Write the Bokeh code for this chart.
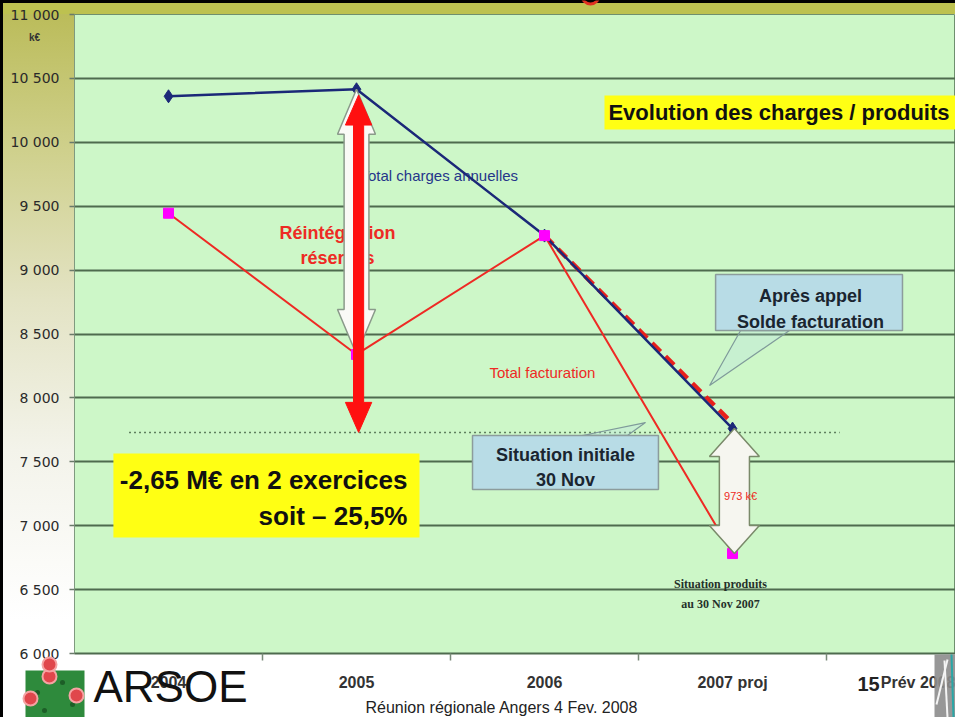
from bokeh.plotting import figure
from bokeh.models import Range1d, FixedTicker
from bokeh.layouts import column
from bokeh.core.properties import value
from bokeh.embed import file_html
from bokeh.resources import INLINE

# ---------------- data ----------------
categories = ["2004", "2005", "2006", "2007 proj", "Prév 2008"]
charges = [10360, 10415, 9270, 7760]          # Total charges annuelles (k€)
facturation = [9445, 8340, 9270, 6782]        # Total facturation (k€)
apres_appel = [None, None, 9270, 7800]        # Après appel solde facturation
situation_initiale = 7730                     # niveau "Situation initiale 30 Nov"
reserve_top = 10370                           # flèche réintégration réserves
y_ticks = [6000, 6500, 7000, 7500, 8000, 8500, 9000, 9500, 10000, 10500, 11000]
y_tick_labels = ["6 000", "6 500", "7 000", "7 500", "8 000", "8 500",
                 "9 000", "9 500", "10 000", "10 500", "11 000"]

# ---------------- layout / styles ----------------
FIG_W, FIG_H = 955, 717
B_LEFT, B_TOP, B_BOTTOM = 74, 14, 64
X_END = 4.686
Y0, Y1 = 6000, 11000
PPX = (FIG_W - B_LEFT) / X_END                 # px per x unit
PPY = (FIG_H - B_TOP - B_BOTTOM) / (Y1 - Y0)   # px per y unit

FRAME_BG = "#cdf7c8"
GRID = "#4e6b4e"
RED = "#ee2a24"
NAVY = "#1b2878"
MAGENTA = "#ff00ff"
YELLOW = "#ffff14"
BLUEBOX = "#b8dce6"
SANS = value("Liberation Sans")

def px(page_x):   # page pixel -> x data
    return (page_x - 8 - B_LEFT) / PPX

def py(page_y):   # page pixel -> y data
    return Y1 - (page_y - 8 - B_TOP) / PPY

xpos = [i + 0.5 for i in range(len(categories))]

p = figure(width=FIG_W, height=FIG_H, x_range=Range1d(0, X_END), y_range=Range1d(Y0, Y1),
           output_backend="svg", toolbar_location=None,
           min_border_left=B_LEFT, min_border_top=B_TOP, min_border_bottom=B_BOTTOM,
           min_border_right=0,
           background_fill_color=FRAME_BG, border_fill_alpha=0,
           outline_line_color="#6f8f6f", outline_line_width=1)
p.styles = {"background": (
    "linear-gradient(#000,#000) 0 0/100% 3px no-repeat,"
    "linear-gradient(#000,#000) 0 0/3px 100% no-repeat,"
    "linear-gradient(#bdc150,#bdc150) 0 3px/100% 11px no-repeat,"
    "linear-gradient(to bottom,#b9ba55 0px,#cfd08c 150px,#e3e3c4 300px,#f3f3ea 450px,#ffffff 620px) 3px 0/71px 100% no-repeat,"
    "#ffffff")}

# axes
p.xaxis.ticker = FixedTicker(ticks=xpos, minor_ticks=[1, 2, 3, 4])
p.xaxis.major_label_overrides = {x: c for x, c in zip(xpos, categories)}
p.xaxis.major_tick_line_color = None
p.xaxis.major_tick_out = 0
p.xaxis.major_tick_in = 0
p.xaxis.minor_tick_in = 0
p.xaxis.minor_tick_out = 7
p.xaxis.minor_tick_line_color = "#7a8a7a"
p.xaxis.minor_tick_line_width = 1.5
p.xaxis.axis_line_color = GRID
p.xaxis.axis_line_width = 2
p.xaxis.major_label_standoff = 13
p.xaxis.major_label_text_font = "Liberation Sans"
p.xaxis.major_label_text_font_style = "bold"
p.xaxis.major_label_text_font_size = "16px"
p.xaxis.major_label_text_color = "#333333"

p.yaxis.ticker = FixedTicker(ticks=y_ticks)
p.yaxis.major_label_overrides = {t: s for t, s in zip(y_ticks, y_tick_labels)}
p.yaxis.minor_tick_line_color = None
p.yaxis.major_tick_in = 0
p.yaxis.major_tick_out = 5
p.yaxis.major_tick_line_color = "#6a7a6a"
p.yaxis.major_tick_line_width = 1.5
p.yaxis.axis_line_color = "#7f9a7f"
p.yaxis.major_label_standoff = 10
p.yaxis.major_label_text_font = "DejaVu Sans"
p.yaxis.major_label_text_font_size = "14px"
p.yaxis.major_label_text_color = "#2a2a2a"

p.xgrid.visible = False
p.ygrid.grid_line_color = GRID
p.ygrid.grid_line_width = 2

def double_arrow(xc, y_top, y_bot, half_shaft, half_head, head_len):
    xs = [xc, xc + half_head, xc + half_shaft, xc + half_shaft, xc + half_head,
          xc, xc - half_head, xc - half_shaft, xc - half_shaft, xc - half_head]
    ys = [y_top, y_top - head_len, y_top - head_len, y_bot + head_len, y_bot + head_len,
          y_bot, y_bot + head_len, y_bot + head_len, y_top - head_len, y_top - head_len]
    return xs, ys

def txt(fig, x, y, t, size, color="#111111", style="normal", align="left", font=SANS,
        baseline="middle"):
    fig.text(x=[x], y=[y], text=[t], text_font=font, text_font_size=size,
             text_font_style=style, text_color=color, text_align=align,
             text_baseline=baseline)

# labels lying under lines / arrows
txt(p, 1.521, 9740, "Total charges annuelles", "15px", color="#25358a")
txt(p, 1.399, 9294, "Réintégration", "18px", color=RED, style="bold", align="center")
txt(p, 1.399, 9091, "réserves", "18px", color=RED, style="bold", align="center")
txt(p, 2.207, 8199, "Total facturation", "15px", color=RED)

# dotted reference line (situation initiale)
p.line([0.29, 4.07], [situation_initiale, situation_initiale], line_color="#5f7f5f",
       line_width=1.5, line_dash="2 3")

# callout tails
p.patch([3.543, 3.378, 3.803], [8527, 8097, 8527], fill_color=BLUEBOX, fill_alpha=0.25,
        line_color="#7f9a9a", line_width=1.2)
p.patch([2.702, 3.037, 2.941], [7706, 7807, 7706], fill_color=BLUEBOX, fill_alpha=0.25,
        line_color="#7f9a9a", line_width=1.2)

# series
ax = [xpos[i] for i, v in enumerate(apres_appel) if v is not None]
ay = [v for v in apres_appel if v is not None]
p.line(ax, ay, line_color="#e8201c", line_width=4.5, line_dash="12 7")
p.line(xpos[:4], facturation, line_color=RED, line_width=2)
p.line(xpos[:4], charges, line_color=NAVY, line_width=2.5)
p.scatter(xpos[:4], charges, marker="diamond", size=13, fill_color=NAVY, line_color=NAVY)
p.scatter(xpos[:4], facturation, marker="square", size=10, fill_color=MAGENTA, line_color=MAGENTA)

# white double arrow 2005
wx, wy = double_arrow(xpos[1], charges[1], facturation[1], 0.066, 0.101, 352)
p.patch(wx, wy, fill_color="#fafaf6", line_color="#8a9a8a", line_width=1.5)
# red double arrow (réintégration réserves)
rx, ry = double_arrow(xpos[1] + 0.011, reserve_top, situation_initiale, 0.027, 0.07, 235)
p.patch(rx, ry, fill_color="#ff1010", line_color="#ff1010", line_width=1)
# white double arrow 2007
wx2, wy2 = double_arrow(xpos[3] + 0.01, charges[3], facturation[3], 0.08, 0.133, 219)
p.patch(wx2, wy2, fill_color="#f6f6f0", line_color="#7a8a6a", line_width=1.5)

# boxes
p.quad(left=[2.819], right=[4.9], bottom=[10100], top=[10366], fill_color=YELLOW, line_color=None)
p.quad(left=[0.207], right=[1.835], bottom=[6907], top=[7565], fill_color=YELLOW, line_color=None)
p.quad(left=[3.410], right=[4.404], bottom=[8527], top=[8965], fill_color=BLUEBOX,
       line_color="#8c9c9c", line_width=1.5)
p.quad(left=[2.117], right=[3.106], bottom=[7283], top=[7706], fill_color=BLUEBOX,
       line_color="#8c9c9c", line_width=1.5)

txt(p, 2.84, 10233, "Evolution des charges / produits", "22px", style="bold")
txt(p, 1.771, 7361, "-2,65 M€ en 2 exercices", "26px", style="bold", align="right")
txt(p, 1.771, 7072, "soit – 25,5%", "26px", style="bold", align="right")
txt(p, 3.915, 8801, "Après appel", "18px", color="#1a2530", style="bold", align="center")
txt(p, 3.915, 8590, "Solde facturation", "18px", color="#1a2530", style="bold", align="center")
txt(p, 2.612, 7557, "Situation initiale", "18px", color="#1a2530", style="bold", align="center")
txt(p, 2.612, 7361, "30 Nov", "18px", color="#1a2530", style="bold", align="center")
txt(p, 3.543, 7236, "973 k€", "11px", color=RED, align="center")
txt(p, 3.436, 6540, "Situation produits", "12px", color="#25302a", style="bold", align="center",
    font=value("Liberation Serif"))
txt(p, 3.436, 6391, "au 30 Nov 2007", "12px", color="#25302a", style="bold", align="center",
    font=value("Liberation Serif"))

# ---------------- transparent overlay for slide decorations outside the plot area ----------------
p2 = figure(width=FIG_W, height=FIG_H, x_axis_type=None, y_axis_type=None,
            output_backend="svg", toolbar_location=None, min_border=0,
            background_fill_alpha=0, border_fill_alpha=0, outline_line_color=None)
if "frame_align" in p2.properties():
    p2.frame_align = False
    p.frame_align = False
    p2.x_range = Range1d(px(8), px(8 + FIG_W))
else:
    p2.x_range = Range1d(0, X_END)
p2.y_range = Range1d(py(8 + FIG_H), py(8))
p2.grid.visible = False
p2.styles = {"position": "absolute", "left": "0px", "top": "0px"}

txt(p2, px(42), py(45), "k€", "10px", color="#333333", style="bold", align="center")
txt(p2, px(876), py(691), "15", "20px", color="#222222", style="bold", align="center")
txt(p2, px(373), py(715), "Réunion régionale Angers 4 Fev. 2008", "16px", color="#222222")
# red ring at top (cut)
p2.scatter([px(598)], [py(3)], marker="circle", size=17, fill_color=None,
           line_color="#e03020", line_width=3)
# ARSOE logo
p2.quad(left=[px(33)], right=[px(92)], top=[py(678)], bottom=[py(730)],
        fill_color="#2e8a3c", line_color=None)
p2.scatter([px(45), px(70), px(52), px(80)], [py(700), py(690), py(718), py(712)],
           marker="circle", size=5, fill_color="#1d5e27", line_color=None)
p2.scatter([px(57), px(38), px(84), px(57)], [py(684), py(706), py(703), py(672)],
           marker="circle", size=14, fill_color="#e0474c", line_color="#f5a3a3", line_width=2)
txt(p2, px(101), py(694), "ARSOE", "44px", color="#111111")
# right-edge logo strip
p2.quad(left=[px(942)], right=[px(970)], top=[py(662)], bottom=[py(730)],
        fill_color="#8c8c8c", fill_alpha=0.9, line_color=None)
p2.segment(x0=[px(944), px(952)], y0=[py(712), py(668)], x1=[px(955), px(955)],
           y1=[py(667), py(725)], line_color="#f4f4f4", line_width=2)
p2.segment(x0=[px(959)], y0=[py(662)], x1=[px(961)], y1=[py(725)], line_color="#2aa6a6",
           line_width=2)

layout = column(p, p2, styles={"position": "relative"})

open("out.html", "w").write(file_html(layout, INLINE))
